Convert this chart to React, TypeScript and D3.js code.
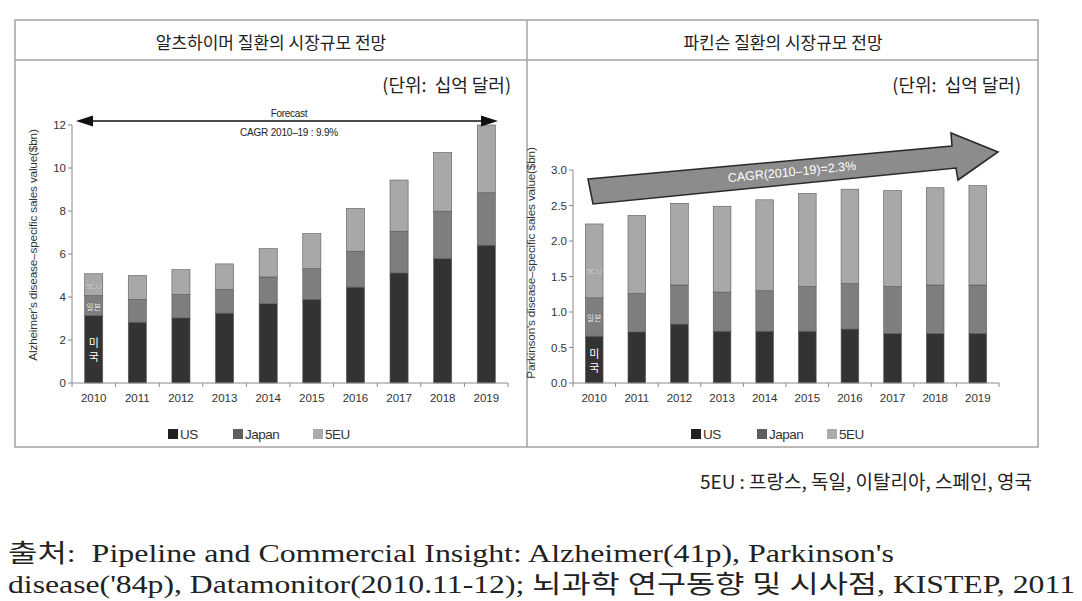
import React from 'react';
import * as d3 from 'd3';

const years = ['2010', '2011', '2012', '2013', '2014', '2015', '2016', '2017', '2018', '2019'];
const seriesNames = ['US', 'Japan', '5EU'];

// Alzheimer's market ($bn)
const alzUS = [3.14, 2.83, 3.03, 3.25, 3.69, 3.89, 4.46, 5.12, 5.79, 6.41];
const alzJapan = [0.93, 1.06, 1.09, 1.1, 1.24, 1.43, 1.67, 1.94, 2.2, 2.44];
const alz5EU = [1.01, 1.11, 1.15, 1.19, 1.32, 1.63, 1.99, 2.38, 2.73, 3.15];
const alzTicks = [0, 2, 4, 6, 8, 10, 12];

// Parkinson's market ($bn)
const parUS = [0.66, 0.72, 0.83, 0.73, 0.73, 0.73, 0.76, 0.7, 0.7, 0.7];
const parJapan = [0.54, 0.54, 0.55, 0.55, 0.57, 0.63, 0.64, 0.66, 0.68, 0.68];
const par5EU = [1.04, 1.1, 1.15, 1.21, 1.28, 1.31, 1.33, 1.35, 1.37, 1.4];
const parTicks = [0, 0.5, 1, 1.5, 2, 2.5, 3];

const barColors = ['#333333', '#7e7e7e', '#a8a8a8'];
const legendColors = ['#231f20', '#5e5e5e', '#ababab'];

const SANS = 'Arial, "Liberation Sans", Helvetica, sans-serif';
const KR = '"Noto Sans CJK KR", "Noto Sans", sans-serif';
const SERIF = '"Liberation Serif", "Noto Sans CJK KR", serif';

type ChartProps = {
  x0: number; x1: number; yTop: number; yBottom: number;
  yMax: number; ticks: number[]; fmt: (v: number) => string;
  us: number[]; jp: number[]; eu: number[];
  yTitle: string; yTitleX: number; yTitleY: number;
  euLabelOffset: number;
  legendX: number[];
};

function StackedChart(p: ChartProps) {
  const x = d3.scaleBand<string>().domain(years).range([p.x0, p.x1]).paddingInner(0.585).paddingOuter(0.29);
  const y = d3.scaleLinear().domain([0, p.yMax]).range([p.yBottom, p.yTop]);
  const rows = years.map((yr, i) => ({ year: yr, US: p.us[i], Japan: p.jp[i], '5EU': p.eu[i] }));
  const stacked = d3.stack<any>().keys(seriesNames)(rows);
  const step = (p.x1 - p.x0) / years.length;
  const bx0 = x(years[0])!;
  const bw = x.bandwidth();
  const usTop = p.us[0];
  const jpTop = p.us[0] + p.jp[0];
  return (
    <g>
      {stacked.map((layer, li) => (
        <g key={layer.key}>
          {layer.map((d, i) => (
            <rect key={i} x={x(years[i])} y={y(d[1])} width={bw} height={y(d[0]) - y(d[1])}
              fill={barColors[li]} stroke="#5a5a5a" strokeWidth={0.6} />
          ))}
        </g>
      ))}
      {/* in-bar labels */}
      <text x={bx0 + bw / 2} y={y(jpTop) - p.euLabelOffset} fontSize={8} fill="#eeeeee" stroke="#777" strokeWidth={0.2}
        textAnchor="middle" dominantBaseline="central" fontFamily={SANS}>5EU</text>
      <text x={bx0 + bw / 2} y={y((usTop + jpTop) / 2) + 1} fontSize={8} fill="#e8e8e8"
        textAnchor="middle" dominantBaseline="central" fontFamily={KR}>일본</text>
      <text x={bx0 + bw / 2} y={y(usTop / 2) - 7} fontSize={11} fill="#ffffff"
        textAnchor="middle" dominantBaseline="central" fontFamily={KR}>미</text>
      <text x={bx0 + bw / 2} y={y(usTop / 2) + 7} fontSize={11} fill="#ffffff"
        textAnchor="middle" dominantBaseline="central" fontFamily={KR}>국</text>
      {/* y axis */}
      <line x1={p.x0} x2={p.x0} y1={p.yTop} y2={p.yBottom} stroke="#8a8a8a" strokeWidth={1} />
      {p.ticks.map((t) => (
        <g key={t}>
          <line x1={p.x0 - 4} x2={p.x0} y1={y(t)} y2={y(t)} stroke="#8a8a8a" />
          <text x={p.x0 - 6} y={y(t)} fontSize={11.5} fill="#333" textAnchor="end" dominantBaseline="central"
            fontFamily={SANS}>{p.fmt(t)}</text>
        </g>
      ))}
      {/* x axis */}
      <line x1={p.x0} x2={p.x1} y1={p.yBottom} y2={p.yBottom} stroke="#8a8a8a" strokeWidth={1} />
      {d3.range(years.length + 1).map((i) => (
        <line key={i} x1={p.x0 + i * step} x2={p.x0 + i * step} y1={p.yBottom} y2={p.yBottom + 4} stroke="#8a8a8a" />
      ))}
      {years.map((yr) => (
        <text key={yr} x={x(yr)! + bw / 2} y={p.yBottom + 19} fontSize={11.5} fill="#333" textAnchor="middle"
          fontFamily={SANS}>{yr}</text>
      ))}
      {/* y title */}
      <text transform={`translate(${p.yTitleX},${p.yTitleY}) rotate(-90)`} fontSize={11.8} fill="#333"
        textAnchor="middle" dominantBaseline="central" fontFamily={SANS} letterSpacing={-0.2}>{p.yTitle}</text>
      {/* legend */}
      {seriesNames.map((s, i) => (
        <g key={s}>
          <rect x={p.legendX[i]} y={429} width={10} height={10} fill={legendColors[i]} />
          <text x={p.legendX[i] + 12} y={434} fontSize={13.5} fill="#333" dominantBaseline="central"
            fontFamily={SANS} letterSpacing={-0.5}>{s}</text>
        </g>
      ))}
    </g>
  );
}

export default function App() {
  const W = 1082, H = 601;
  const fmt0 = d3.format('d');
  const fmt1 = d3.format('.1f');
  return (
    <svg width={W} height={H} style={{ position: 'absolute', left: 0, top: 0, background: '#fff' }}>
      <rect x={0} y={0} width={W} height={H} fill="#fff" />
      {/* table frame */}
      <rect x={15} y={20} width={1023} height={427} fill="none" stroke="#a3a3a3" strokeWidth={1.5} />
      <line x1={15} x2={1038} y1={60} y2={60} stroke="#a3a3a3" strokeWidth={1.5} />
      <line x1={527} x2={527} y1={20} y2={447} stroke="#a3a3a3" strokeWidth={1.5} />
      <text x={271} y={41} fontSize={17} fill="#222" textAnchor="middle" dominantBaseline="central" fontFamily={KR}>
        알츠하이머 질환의 시장규모 전망
      </text>
      <text x={783} y={41} fontSize={17} fill="#222" textAnchor="middle" dominantBaseline="central" fontFamily={KR}>
        파킨슨 질환의 시장규모 전망
      </text>
      <text x={511} y={84} fontSize={18} fill="#222" textAnchor="end" dominantBaseline="central" fontFamily={KR}
        style={{ whiteSpace: 'pre' }}>
        (단위:  십억 달러)
      </text>
      <text x={1021} y={84} fontSize={18} fill="#222" textAnchor="end" dominantBaseline="central" fontFamily={KR}
        style={{ whiteSpace: 'pre' }}>
        (단위:  십억 달러)
      </text>

      {/* Left chart */}
      <StackedChart x0={72} x1={508} yTop={125} yBottom={383} yMax={12} ticks={alzTicks} fmt={fmt0}
        us={alzUS} jp={alzJapan} eu={alz5EU}
        yTitle="Alzheimer's disease–specific sales value($bn)" yTitleX={33} yTitleY={245}
        euLabelOffset={9} legendX={[168, 233, 313]} />
      {/* Forecast arrow */}
      <line x1={90} x2={484} y1={121} y2={121} stroke="#111" strokeWidth={1.5} />
      <path d="M76,121 L93,115.5 L93,126.5 Z" fill="#111" />
      <path d="M498,121 L481,115.5 L481,126.5 Z" fill="#111" />
      <text x={289} y={113} fontSize={10} fill="#222" textAnchor="middle" dominantBaseline="central" fontFamily={SANS}
        letterSpacing={-0.3}>Forecast</text>
      <text x={289} y={132} fontSize={10} fill="#222" textAnchor="middle" dominantBaseline="central" fontFamily={SANS}
        letterSpacing={-0.2}>CAGR 2010–19 : 9.9%</text>

      {/* Right chart */}
      <StackedChart x0={573} x1={999} yTop={170} yBottom={383} yMax={3} ticks={parTicks} fmt={fmt1}
        us={parUS} jp={parJapan} eu={par5EU}
        yTitle="Parkinson's disease–specific sales value($bn)" yTitleX={531} yTitleY={263}
        euLabelOffset={26} legendX={[691, 757, 827]} />
      {/* CAGR block arrow */}
      <path d="M588,179 L952,146 L951,133 L998,152 L958,180 L956,168 L593,204 Z" fill="#8c8c8c" stroke="#2a2a2a"
        strokeWidth={1.6} strokeLinejoin="miter" />
      <text transform="translate(792,172) rotate(-5.5)" fontSize={12.5} fill="#ffffff" textAnchor="middle"
        dominantBaseline="central" fontFamily={SANS}>CAGR(2010–19)=2.3%</text>

      {/* footnote */}
      <text x={1032} y={480} fontSize={19} fill="#222" textAnchor="end" dominantBaseline="central" fontFamily={KR}
        style={{ whiteSpace: 'pre' }}>
        5EU : 프랑스, 독일, 이탈리아, 스페인, 영국
      </text>

      {/* source */}
      <text x={8} y={562} fontSize={25} fill="#222" fontFamily={SERIF}
        textLength={886} lengthAdjust="spacingAndGlyphs" style={{ whiteSpace: 'pre' }}>출처:  Pipeline and Commercial Insight: Alzheimer(41p), Parkinson's</text>
      <text x={8} y={593} fontSize={25} fill="#222" fontFamily={SERIF}
        textLength={1067} lengthAdjust="spacingAndGlyphs">disease('84p), Datamonitor(2010.11-12); 뇌과학 연구동향 및 시사점, KISTEP, 2011</text>
    </svg>
  );
}
